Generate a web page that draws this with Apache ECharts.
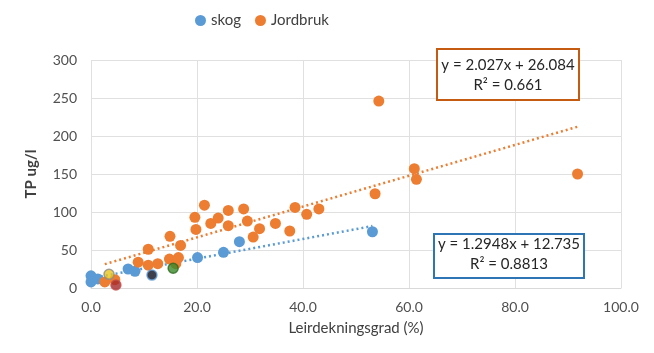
<!DOCTYPE html>
<html><head><meta charset="utf-8">
<script src="https://cdn.jsdelivr.net/npm/echarts@6/dist/echarts.min.js"></script>
<style>html,body{margin:0;padding:0;background:#fff}#c{width:654px;height:353px}</style>
</head><body><div id="c"></div>
<script>
const skogX = [0, 0, 1.3, 7.0, 8.3, 20.1, 25.0, 28.0, 53.1];
const skogY = [16, 8, 12, 25, 22, 40, 47, 61, 74];
const jordX = [2.6, 4.5, 8.9, 10.8, 10.8, 12.6, 14.8, 14.9, 16.0, 16.5, 16.9, 19.6, 19.8, 21.4, 22.6, 24.0, 25.9, 25.9, 28.8, 29.5, 30.6, 31.8, 34.8, 37.5, 38.5, 40.7, 43.0, 53.6, 54.3, 61.0, 61.4, 91.8];
const jordY = [8, 11, 34, 30, 51, 32, 38, 68, 32, 40, 56, 93, 77, 109, 85, 92, 102, 82, 104, 88, 67, 78, 85, 75, 106, 97, 104, 124, 246, 157, 143, 150];
const otherX = [3.4, 4.7, 11.5, 15.5];
const otherY = [18, 4, 17, 26];
const otherFill = ['#E8C51A', '#A5282A', '#0B1020', '#3A8A2A'];
const otherEdge = ['#8C8C8C', '#C0504D', '#5B9BD5', '#2E6B1E'];
const skogFit = {slope: 1.2948, intercept: 12.735, r2: '0.8813'};
const jordFit = {slope: 2.027, intercept: 26.084, r2: '0.661'};
const xTicks = {min: 0, max: 100, interval: 20};
const yTicks = {min: 0, max: 300, interval: 50};

const BLUE = '#5B9BD5', ORANGE = '#ED7D31';
const FONT = 'Lato';
function pairs(xs, ys){ return xs.map((x,i)=>[x, ys[i]]); }
function trend(xs, fit){
  const a = Math.min(...xs), b = Math.max(...xs);
  return [[a, fit.slope*a+fit.intercept],[b, fit.slope*b+fit.intercept]];
}
function eqBox(x, y, w, h, border, fit, l1, l2){
  return {type:'group', left:x, top:y, z:100, children:[
    {type:'rect', z:100, shape:{x:0, y:0, width:w, height:h}, style:{fill:'#ffffff', stroke:border, lineWidth:2}},
    {type:'text', z:101, x:w/2, y:l1, style:{text:'y = '+fit.slope+'x + '+fit.intercept, font:'15px '+FONT, fill:'#262626', align:'center', verticalAlign:'middle'}},
    {type:'text', z:101, x:w/2, y:l2, style:{text:'R² = '+fit.r2, font:'15px '+FONT, fill:'#262626', align:'center', verticalAlign:'middle'}}
  ]};
}
const chart = echarts.init(document.getElementById('c'), null, {renderer:'canvas'});
chart.setOption({
  animation:false,
  textStyle:{fontFamily:FONT},
  grid:{left:91, right:33, top:60, bottom:65},
  legend:{data:['skog','Jordbruk'], top:8, left:190, icon:'circle', itemWidth:11, itemHeight:11, itemGap:14,
    textStyle:{fontFamily:FONT, fontSize:15, color:'#404040'}},
  xAxis:{type:'value', min:xTicks.min, max:xTicks.max, interval:xTicks.interval,
    name:'Leirdekningsgrad (%)', nameLocation:'middle', nameGap:33,
    nameTextStyle:{fontFamily:FONT, fontSize:15, color:'#404040'},
    axisLine:{show:true, lineStyle:{color:'#d9d9d9'}}, axisTick:{show:false},
    axisLabel:{formatter:v=>v.toFixed(1), fontFamily:FONT, fontSize:14, color:'#505050', margin:12},
    splitLine:{show:true, lineStyle:{color:'#e0e0e0'}}},
  yAxis:{type:'value', min:yTicks.min, max:yTicks.max, interval:yTicks.interval,
    name:'TP ug/l', nameLocation:'middle', nameGap:52,
    nameTextStyle:{fontFamily:FONT, fontSize:15, fontWeight:'bold', color:'#404040'},
    axisLine:{show:false}, axisTick:{show:false},
    axisLabel:{fontFamily:FONT, fontSize:14, color:'#505050', margin:14},
    splitLine:{show:true, lineStyle:{color:'#e0e0e0'}}},
  series:[
    {name:'skog trend', type:'line', data:trend(skogX, skogFit), symbol:'none', silent:true,
     lineStyle:{color:BLUE, width:2.5, type:[2,3]}, z:1},
    {name:'Jordbruk trend', type:'line', data:trend(jordX, jordFit), symbol:'none', silent:true,
     lineStyle:{color:ORANGE, width:2.5, type:[2,3]}, z:1},
    {name:'skog', type:'scatter', data:pairs(skogX, skogY), symbolSize:11,
     itemStyle:{color:BLUE, opacity:1}, z:3},
    {name:'Jordbruk', type:'scatter', data:pairs(jordX, jordY), symbolSize:11,
     itemStyle:{color:ORANGE, opacity:1}, z:3},
    {name:'andre', type:'scatter', symbolSize:10, z:4,
     data:otherX.map((x,i)=>({value:[x, otherY[i]], itemStyle:{color:otherFill[i], borderColor:otherEdge[i], borderWidth:1.5}}))}
  ],
  graphic:[
    eqBox(436, 48, 142, 51, '#C55A11', jordFit, 16, 36),
    eqBox(433, 233, 150, 44, '#2E75B6', skogFit, 10, 30)
  ]
});
</script></body></html>
